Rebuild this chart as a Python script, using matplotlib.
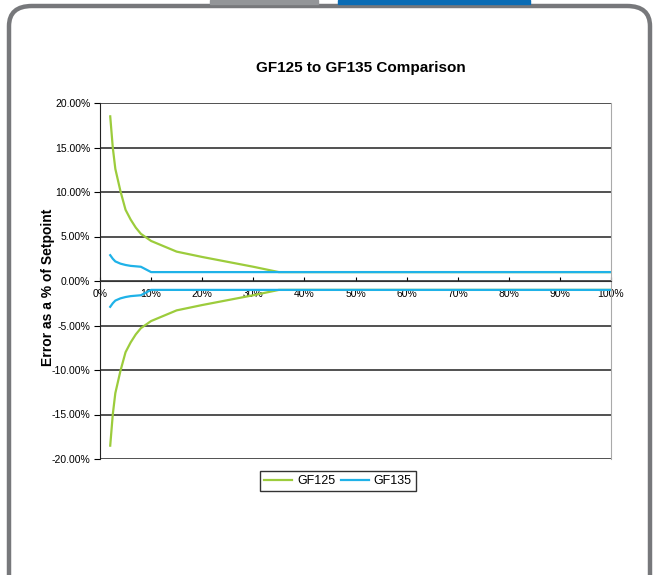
import numpy as np
import matplotlib
matplotlib.use("Agg")
import matplotlib.pyplot as plt
from matplotlib.patches import FancyBboxPatch, Rectangle
from matplotlib.ticker import FuncFormatter, MultipleLocator

# percent of full scale
x_gf125 = [2, 2.5, 3, 4, 5, 6, 7, 8, 10, 15, 20, 25, 30, 35, 40, 50, 60, 70, 80, 90, 100]
err_gf125 = [18.5, 15.0, 12.6, 10.1, 8.0, 6.9, 6.0, 5.3, 4.5, 3.3, 2.7, 2.15, 1.6, 1.0,
             1.0, 1.0, 1.0, 1.0, 1.0, 1.0, 1.0]
x_gf135 = [2, 2.5, 3, 4, 5, 6, 8, 10, 15, 20, 30, 40, 50, 60, 70, 80, 90, 100]
err_gf135 = [2.9, 2.5, 2.2, 1.95, 1.8, 1.7, 1.6, 1.0, 1.0, 1.0, 1.0, 1.0, 1.0, 1.0,
             1.0, 1.0, 1.0, 1.0]

green = "#9ccc3c"
blue = "#1fb2e8"

fig = plt.figure(figsize=(6.55, 5.75), dpi=100)

# outer rounded frame and top tabs
W, H = 655, 575
frame = FancyBboxPatch((9 / W, -0.2), 641 / W, 1.2 - 6 / H,
                       boxstyle="round,pad=0,rounding_size=0.035",
                       transform=fig.transFigure, facecolor="white",
                       edgecolor="#77787b", linewidth=3.2, zorder=-2)
fig.patches.append(frame)
fig.patches.append(Rectangle((210 / W, 1 - 4 / H), 108 / W, 4 / H,
                             transform=fig.transFigure, color="#939598", zorder=-1))
fig.patches.append(Rectangle((338 / W, 1 - 4 / H), 192 / W, 4 / H,
                             transform=fig.transFigure, color="#0a6cb5", zorder=-1))

ax = fig.add_axes([100 / W, 1 - 459 / H, 511 / W, 356 / H])
ax.set_facecolor("none")

ax.plot(x_gf125, err_gf125, color=green, lw=1.6, label="GF125")
ax.plot(x_gf135, err_gf135, color=blue, lw=1.6, label="GF135")
ax.plot(x_gf125, -np.array(err_gf125), color=green, lw=1.6)
ax.plot(x_gf135, -np.array(err_gf135), color=blue, lw=1.6)

ax.set_xlim(0, 100)
ax.set_ylim(-20, 20)
ax.yaxis.set_major_locator(MultipleLocator(5))
ax.xaxis.set_major_locator(MultipleLocator(10))
ax.yaxis.set_major_formatter(FuncFormatter(lambda v, p: f"{v:.2f}%"))
ax.xaxis.set_major_formatter(FuncFormatter(lambda v, p: f"{v:.0f}%"))
ax.grid(axis="y", color="#222222", lw=1.1)
ax.set_axisbelow(True)

ax.spines["bottom"].set_position(("data", 0))
ax.spines["bottom"].set_color("#333333")
ax.spines["top"].set_visible(False)
ax.spines["right"].set_color("#aaaaaa")
ax.spines["left"].set_color("#222222")
ax.tick_params(axis="x", direction="in", length=3, labelsize=7.5, pad=6)
ax.tick_params(axis="y", direction="out", length=4, labelsize=7.5, pad=3)

ax.set_title("GF125 to GF135 Comparison", fontsize=11, fontweight="bold",
             family="Liberation Sans", pad=22, x=0.51)
ax.set_ylabel("Error as a % of Setpoint", fontsize=10, fontweight="bold",
              family="Liberation Sans")
ax.yaxis.set_label_coords(-0.088, 0.483)
for lab in ax.get_xticklabels() + ax.get_yticklabels():
    lab.set_family("Liberation Sans")

leg = ax.legend(loc="upper center", bbox_to_anchor=(0.466, -0.015), ncol=2,
                frameon=True, fancybox=False, handlelength=2.2,
                columnspacing=0.5, handletextpad=0.4, borderpad=0.35,
                prop={"family": "Liberation Sans", "size": 9})
leg.get_frame().set_edgecolor("black")
leg.get_frame().set_linewidth(1.0)

fig.savefig("out.png", dpi=100)
